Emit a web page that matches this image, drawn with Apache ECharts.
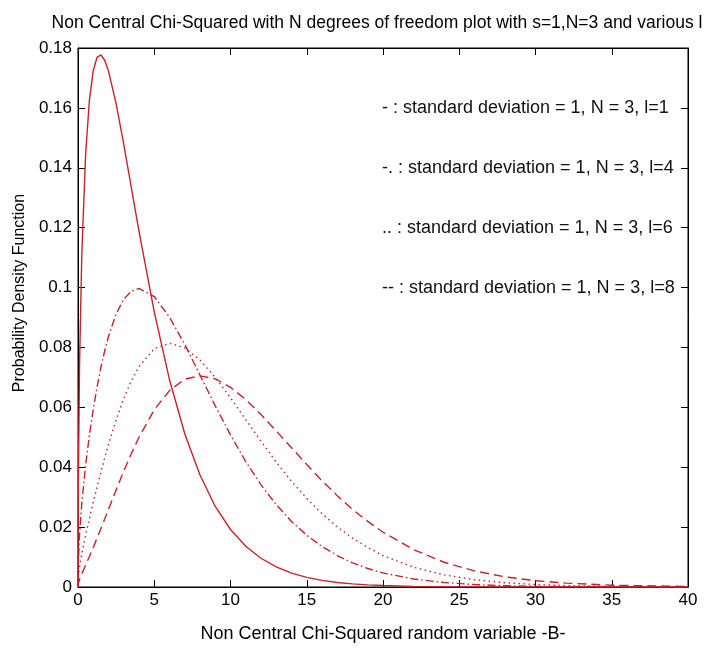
<!DOCTYPE html>
<html>
<head>
<meta charset="utf-8">
<script src="https://cdn.jsdelivr.net/npm/echarts@6/dist/echarts.min.js"></script>
<style>html,body{margin:0;padding:0;background:#fff}#c{width:714px;height:648px}</style>
</head>
<body>
<div id="c"></div>
<script>
// ---- data ----
const xValues = [0, 0.02, 0.1, 0.25, 0.5, 0.75, 1, 1.25, 1.5, 1.75, 2, 2.5, 3, 3.5, 4, 5, 6, 7, 8, 9, 10, 11, 12, 13, 14, 15, 16, 17, 18, 19, 20, 22, 24, 26, 28, 30, 32, 35, 40];
const curveL1 = [0, 0.034, 0.074, 0.1113, 0.1446, 0.1627, 0.1725, 0.1769, 0.1777, 0.1759, 0.1723, 0.1614, 0.1478, 0.1333, 0.1188, 0.0919, 0.0692, 0.0512, 0.0374, 0.0269, 0.0192, 0.0136, 0.0096, 0.0067, 0.00465, 0.00322, 0.00222, 0.00152, 0.00104, 0.00071, 0.00048, 0.00022, 0.0001, 0.000045, 0.00002, 0.00001, 0, 0, 0];
const curveL4 = [0, 0.00766, 0.01735, 0.0280, 0.0407, 0.0508, 0.0594, 0.0668, 0.0733, 0.0789, 0.0837, 0.0912, 0.0961, 0.0988, 0.0997, 0.0970, 0.0901, 0.0810, 0.0708, 0.0605, 0.0508, 0.0419, 0.0341, 0.0275, 0.0219, 0.0173, 0.0135, 0.0105, 0.00807, 0.00617, 0.00470, 0.00267, 0.00149, 0.00082, 0.00044, 0.00024, 0.00012, 0.00005, 0.00001];
const curveL6 = [0, 0.00284, 0.00659, 0.01112, 0.01728, 0.02292, 0.02827, 0.0334, 0.03836, 0.0431, 0.0476, 0.0558, 0.0629, 0.0689, 0.0736, 0.0796, 0.0814, 0.0799, 0.0758, 0.0700, 0.0632, 0.0559, 0.0487, 0.0417, 0.0353, 0.0296, 0.0245, 0.0201, 0.0163, 0.0132, 0.0105, 0.00661, 0.00405, 0.00244, 0.00144, 0.00083, 0.00048, 0.00020, 0.000045];
const curveL8 = [0, 0.00105, 0.0025, 0.00441, 0.0073, 0.0102, 0.01321, 0.0163, 0.01948, 0.0227, 0.02594, 0.0324, 0.0387, 0.0446, 0.0500, 0.0592, 0.0656, 0.0694, 0.0705, 0.0695, 0.0667, 0.0626, 0.0576, 0.0521, 0.0465, 0.0409, 0.0355, 0.0305, 0.0259, 0.0219, 0.0183, 0.0125, 0.00827, 0.00536, 0.00339, 0.00211, 0.00129, 0.00060, 0.00016];
const xTickLabels = ['0', '5', '10', '15', '20', '25', '30', '35', '40'];
const yTickLabels = ['0', '0.02', '0.04', '0.06', '0.08', '0.1', '0.12', '0.14', '0.16', '0.18'];
const legendTexts = ['- : standard deviation = 1, N = 3, l=1', '-. : standard deviation = 1, N = 3, l=4', '.. : standard deviation = 1, N = 3, l=6', '-- : standard deviation = 1, N = 3, l=8'];
const legendLevels = [0.16, 0.14, 0.12, 0.10];
const legendStartX = 20;
const titleText = 'Non Central Chi-Squared with N degrees of freedom plot with s=1,N=3 and various l';
const xAxisName = 'Non Central Chi-Squared random variable -B-';
const yAxisName = 'Probability Density Function';

// ---- chart ----
const FONT = '"Liberation Sans", Arial, Helvetica, sans-serif';
const RED = '#c8232b';
const chart = echarts.init(document.getElementById('c'), null, {renderer: 'canvas'});
const pairs = ys => xValues.map((x, i) => [x, ys[i]]);
const xMin = +xTickLabels[0], xMax = +xTickLabels[xTickLabels.length - 1];
const yMin = +yTickLabels[0], yMax = +yTickLabels[yTickLabels.length - 1];
const xStep = +xTickLabels[1] - xMin, yStep = +yTickLabels[1] - yMin;

const axisCommon = {
  type: 'value',
  axisLine: {show: true, onZero: false, lineStyle: {color: '#000', width: 1}},
  axisTick: {show: true, inside: true, length: 7, lineStyle: {color: '#000', width: 1}},
  splitLine: {show: false}
};
const fmt = v => String(Math.round(v * 100) / 100);

const seriesDefs = [
  {data: curveL1, dash: 'solid'},
  {data: curveL4, dash: [8, 3, 1.5, 3]},
  {data: curveL6, dash: [1.5, 3.5]},
  {data: curveL8, dash: [9, 5]}
];

chart.setOption({
  animation: false,
  backgroundColor: '#fff',
  grid: {left: 78, right: 26, top: 48, bottom: 61, show: true, borderColor: '#000', borderWidth: 1, backgroundColor: 'transparent'},
  xAxis: [
    Object.assign({}, axisCommon, {position: 'bottom', min: xMin, max: xMax, interval: xStep,
      axisLabel: {show: true, color: '#000', fontFamily: FONT, fontSize: 17, margin: 5, formatter: fmt}}),
    Object.assign({}, axisCommon, {position: 'top', min: xMin, max: xMax, interval: xStep, axisLabel: {show: false}})
  ],
  yAxis: [
    Object.assign({}, axisCommon, {position: 'left', min: yMin, max: yMax, interval: yStep,
      axisLabel: {show: true, color: '#000', fontFamily: FONT, fontSize: 17, margin: 6, formatter: fmt}}),
    Object.assign({}, axisCommon, {position: 'right', min: yMin, max: yMax, interval: yStep, axisLabel: {show: false}})
  ],
  series: seriesDefs.map(s => ({
    type: 'line',
    xAxisIndex: 0, yAxisIndex: 0,
    data: pairs(s.data),
    showSymbol: false, symbol: 'none',
    smooth: false,
    clip: true,
    lineStyle: {color: RED, width: 1.4, type: s.dash},
    z: 3
  }))
});

const gx = legendStartX;
const graphics = [
  {type: 'text', x: 377, y: 23, style: {text: titleText, fill: '#000', font: '17.5px ' + FONT, textAlign: 'center', align: 'center', textVerticalAlign: 'middle', verticalAlign: 'middle'}},
  {type: 'text', x: 383, y: 634, style: {text: xAxisName, fill: '#000', font: '18px ' + FONT, textAlign: 'center', align: 'center', textVerticalAlign: 'middle', verticalAlign: 'middle'}},
  {type: 'text', x: 20, y: 293, rotation: Math.PI / 2, style: {text: yAxisName, fill: '#000', font: '16px ' + FONT, textAlign: 'center', align: 'center', textVerticalAlign: 'middle', verticalAlign: 'middle'}}
];
legendTexts.forEach((t, i) => {
  const p = chart.convertToPixel({xAxisIndex: 0, yAxisIndex: 0}, [gx, legendLevels[i]]);
  graphics.push({type: 'text', x: p[0] - 1, y: p[1], style: {text: t, fill: '#111', font: '18px ' + FONT, textAlign: 'left', align: 'left', textVerticalAlign: 'middle', verticalAlign: 'middle'}});
});
chart.setOption({graphic: graphics});
</script>
</body>
</html>
